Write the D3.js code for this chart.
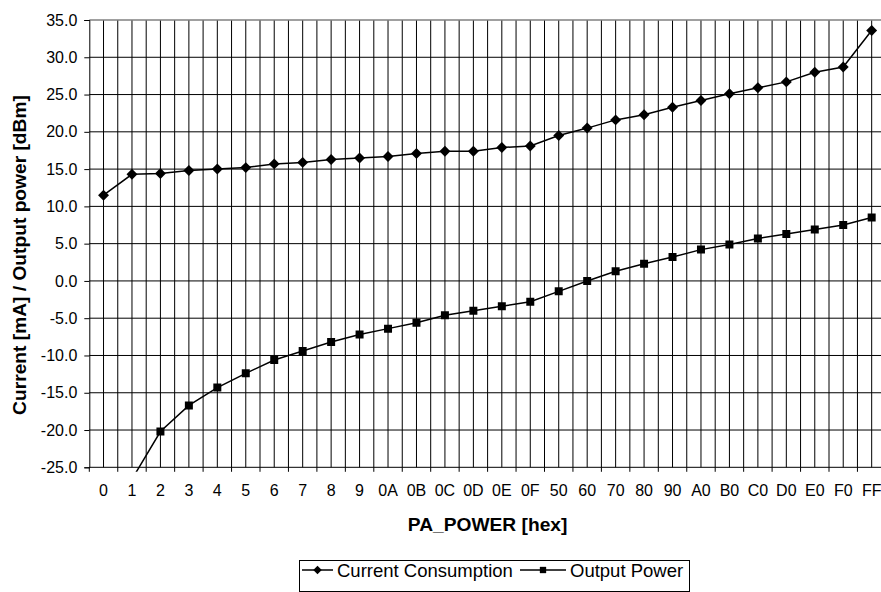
<!DOCTYPE html>
<html><head><meta charset="utf-8">
<script src="https://cdn.jsdelivr.net/npm/d3@7"></script>
<style>
body{margin:0;background:#fff;}
svg{display:block;font-family:Arial,"Liberation Sans",sans-serif;}
</style>
</head><body>
<svg id="c" width="881" height="592"></svg>
<script>
const categories = ["0","1","2","3","4","5","6","7","8","9","0A","0B","0C","0D","0E","0F","50","60","70","80","90","A0","B0","C0","D0","E0","F0","FF"];
const currentConsumption = [11.5,14.3,14.4,14.8,15.0,15.2,15.7,15.9,16.3,16.5,16.7,17.1,17.4,17.4,17.9,18.1,19.5,20.5,21.6,22.3,23.3,24.2,25.1,25.9,26.7,28.0,28.7,33.6];
const outputPower = [-35.0,-26.6,-20.2,-16.7,-14.3,-12.4,-10.6,-9.4,-8.2,-7.2,-6.4,-5.6,-4.6,-4.0,-3.4,-2.8,-1.4,0.0,1.3,2.3,3.2,4.2,4.9,5.7,6.3,6.9,7.5,8.5];
const yTicks = [-25,-20,-15,-10,-5,0,5,10,15,20,25,30,35];
const seriesNames = ["Current Consumption","Output Power"];
const xTitle = "PA_POWER [hex]";
const yTitle = "Current [mA] / Output power [dBm]";

const svg = d3.select("#c");
const L = 89.3, R = 885.9, T = 20, B = 467.3;
const x = d3.scaleBand().domain(categories).range([L, R]).padding(0);
const bw = x.bandwidth();
const cx = c => x(c) + bw / 2;
const y = d3.scaleLinear().domain([-25, 35]).range([B, T]);

// vertical gridlines: at band boundaries and band centres
const vlines = [];
categories.forEach(c => { vlines.push(x(c)); vlines.push(cx(c)); });
vlines.push(R);
svg.append("g").selectAll("line").data(vlines.filter(v => v > L + 0.5)).join("line")
  .attr("x1", d => d).attr("x2", d => d).attr("y1", T).attr("y2", B)
  .attr("stroke", "#000").attr("stroke-width", 1);

// horizontal gridlines
svg.append("g").selectAll("line").data(yTicks.filter(v => v > -25 && v < 35)).join("line")
  .attr("x1", L).attr("x2", R).attr("y1", d => y(d)).attr("y2", d => y(d))
  .attr("stroke", "#000").attr("stroke-width", 1);

// top border
svg.append("line").attr("x1", L).attr("x2", R).attr("y1", y(35)).attr("y2", y(35))
  .attr("stroke", "#808080").attr("stroke-width", 1.5);

// y axis
const yAxis = svg.append("g").attr("transform", `translate(${L},0)`)
  .call(d3.axisLeft(y).tickValues(yTicks).tickFormat(d => d.toFixed(1)).tickSize(5).tickPadding(7));
yAxis.select(".domain").attr("stroke", "#000");
yAxis.selectAll(".tick line").attr("stroke", "#000");
yAxis.selectAll("text").attr("font-size", 16).attr("fill", "#000").attr("font-family", "Arial, 'Liberation Sans', sans-serif");

// x axis
const xAxis = svg.append("g").attr("transform", `translate(0,${B})`)
  .call(d3.axisBottom(x).tickSize(0).tickPadding(17));
xAxis.select(".domain").remove();
xAxis.selectAll("text").attr("font-size", 16).attr("fill", "#000").attr("font-family", "Arial, 'Liberation Sans', sans-serif");
svg.append("line").attr("x1", L).attr("x2", R).attr("y1", B).attr("y2", B).attr("stroke", "#000");
const bounds = categories.map(c => x(c)).concat([R]);
svg.append("g").selectAll("line").data(bounds).join("line")
  .attr("x1", d => d).attr("x2", d => d).attr("y1", B).attr("y2", B + 4.5)
  .attr("stroke", "#000");

// titles
svg.append("text").attr("x", (L + R) / 2).attr("y", 531).attr("text-anchor", "middle")
  .attr("font-size", 19.2).attr("font-weight", "bold").text(xTitle);
svg.append("text").attr("transform", "translate(26.4,255) rotate(-90)").attr("text-anchor", "middle")
  .attr("font-size", 19.2).attr("font-weight", "bold").text(yTitle);

// clip
svg.append("defs").append("clipPath").attr("id", "clip")
  .append("rect").attr("x", L).attr("y", T - 10).attr("width", R - L + 10).attr("height", B + 4.5 - T + 10);

const line = d3.line().x((d, i) => cx(categories[i])).y(d => y(d));
const plot = svg.append("g").attr("clip-path", "url(#clip)");
plot.append("path").attr("d", line(currentConsumption)).attr("fill", "none").attr("stroke", "#000").attr("stroke-width", 1.5);
plot.append("path").attr("d", line(outputPower)).attr("fill", "none").attr("stroke", "#000").attr("stroke-width", 1.5);

const diamond = d3.symbol().type(d3.symbolSquare).size(60);
const square = d3.symbol().type(d3.symbolSquare).size(64);
plot.append("g").selectAll("path").data(currentConsumption).join("path")
  .attr("d", diamond).attr("transform", (d, i) => `translate(${cx(categories[i])},${y(d)}) rotate(45)`).attr("fill", "#000");
plot.append("g").selectAll("path").data(outputPower).join("path")
  .attr("d", square).attr("transform", (d, i) => `translate(${cx(categories[i])},${y(d)})`).attr("fill", "#000");

// legend
const lg = svg.append("g");
lg.append("rect").attr("x", 299.5).attr("y", 560.5).attr("width", 390).attr("height", 31)
  .attr("fill", "#fff").attr("stroke", "#000");
const ly = 570;
lg.append("line").attr("x1", 302).attr("x2", 333).attr("y1", ly).attr("y2", ly).attr("stroke", "#000").attr("stroke-width", 1.5);
lg.append("path").attr("d", d3.symbol().type(d3.symbolSquare).size(36)).attr("transform", `translate(317.5,${ly}) rotate(45)`);
lg.append("text").attr("x", 337).attr("y", 576.5).attr("font-size", 18.5).text(seriesNames[0]);
lg.append("line").attr("x1", 520).attr("x2", 566).attr("y1", ly).attr("y2", ly).attr("stroke", "#000").attr("stroke-width", 1.5);
lg.append("path").attr("d", d3.symbol().type(d3.symbolSquare).size(40)).attr("transform", `translate(543,${ly})`);
lg.append("text").attr("x", 570).attr("y", 576.5).attr("font-size", 18.5).text(seriesNames[1]);
</script>
</body></html>
